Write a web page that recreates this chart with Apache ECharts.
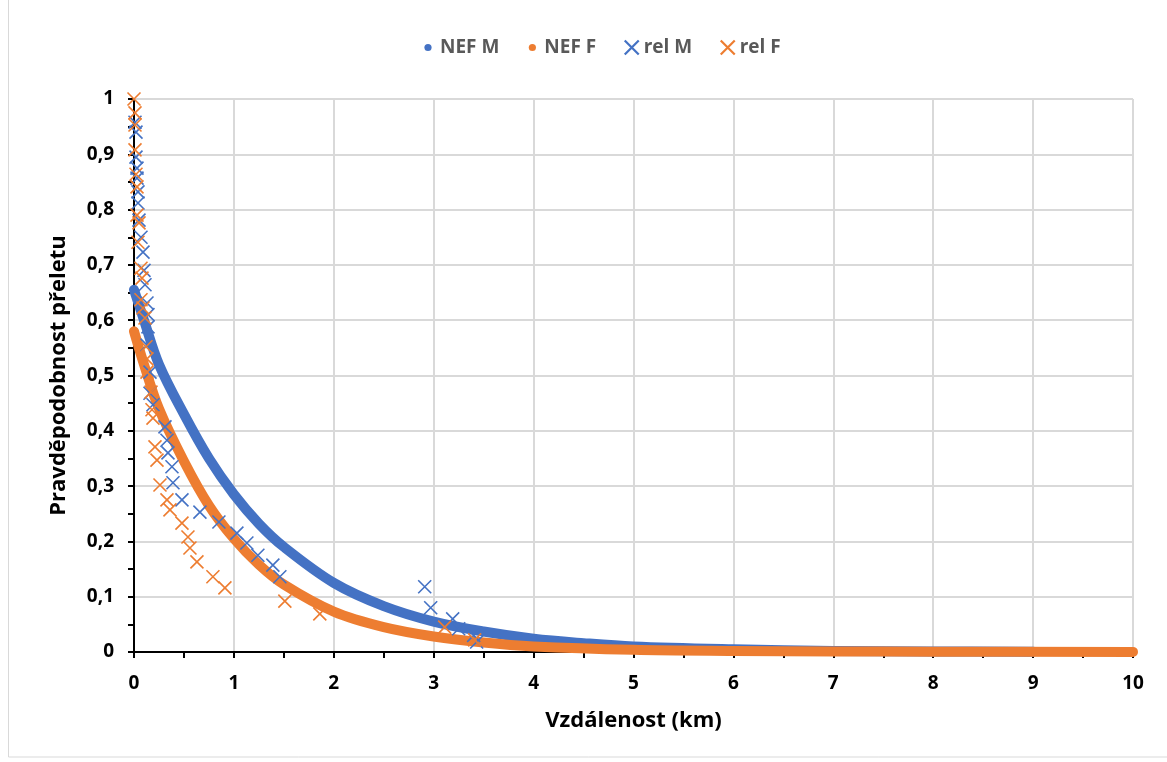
<!DOCTYPE html>
<html>
<head>
<meta charset="utf-8">
<script src="https://cdn.jsdelivr.net/npm/echarts@6/dist/echarts.min.js"></script>
<style>
  html, body { margin: 0; padding: 0; background: #fff; }
  #chart { width: 1167px; height: 762px; }
</style>
</head>
<body>
<div id="chart"></div>
<script>
const log = console.log;

// NEF curves [km, probability]
const nefM = [
  [0, 0.655], [0.1, 0.6], [0.25, 0.52], [0.5, 0.43], [0.75, 0.35], [1, 0.285],
  [1.25, 0.232], [1.5, 0.19], [2, 0.125], [2.5, 0.083], [3, 0.055], [3.5, 0.037],
  [4, 0.024], [4.5, 0.016], [5, 0.01], [6, 0.005], [7, 0.002], [8, 0.001], [9, 0.0005]
];
const nefF = [
  [0, 0.58], [0.1, 0.52], [0.25, 0.44], [0.5, 0.345], [0.75, 0.265], [1, 0.205],
  [1.25, 0.158], [1.5, 0.122], [2, 0.073], [2.5, 0.045], [3, 0.028], [3.5, 0.017],
  [4, 0.01], [5, 0.004], [6, 0.002], [7, 0.001], [8, 0.0005], [10, 0.0002]
];

// measured points (crosses)
const relM = [
  [0.01, 0.958], [0.02, 0.94], [0.02, 0.895], [0.03, 0.875], [0.03, 0.857], [0.04, 0.832],
  [0.04, 0.812], [0.05, 0.781], [0.07, 0.75], [0.09, 0.723], [0.1, 0.69], [0.11, 0.664],
  [0.13, 0.631], [0.14, 0.61], [0.14, 0.588], [0.13, 0.555], [0.16, 0.506], [0.16, 0.468],
  [0.19, 0.447], [0.31, 0.407], [0.33, 0.383], [0.34, 0.36], [0.38, 0.335], [0.39, 0.306],
  [0.48, 0.275], [0.66, 0.253], [0.85, 0.235], [1.03, 0.215], [1.13, 0.197], [1.24, 0.175],
  [1.39, 0.157], [1.46, 0.136], [2.91, 0.118], [2.97, 0.08], [3.19, 0.06], [3.25, 0.042],
  [3.4, 0.03], [3.43, 0.018]
];
const relF = [
  [0, 1.0], [0.01, 0.975], [0.01, 0.953], [0.01, 0.908], [0.02, 0.864], [0.03, 0.841],
  [0.03, 0.79], [0.05, 0.776], [0.04, 0.741], [0.07, 0.694], [0.08, 0.676], [0.07, 0.637],
  [0.09, 0.622], [0.11, 0.604], [0.12, 0.552], [0.13, 0.53], [0.13, 0.506], [0.17, 0.47],
  [0.18, 0.438], [0.19, 0.423], [0.21, 0.371], [0.23, 0.347], [0.26, 0.302], [0.33, 0.275],
  [0.36, 0.257], [0.48, 0.233], [0.54, 0.208], [0.56, 0.188], [0.63, 0.163], [0.79, 0.136],
  [0.91, 0.116], [1.51, 0.092], [1.86, 0.069], [3.11, 0.045], [3.41, 0.022]
];

const BLUE = "#4472C4";
const ORANGE = "#ED7D31";
const CROSS = "path://M0,0L10,10M10,0L0,10";
const FONT = "'Open Sans', 'Noto Sans', sans-serif";
const comma = v => String(Math.round(v * 10) / 10).replace(".", ",");
// small dot legend icon, padded so it stays small inside the legend box
const dot = color => "image://data:image/svg+xml;utf8," + encodeURIComponent(
  `<svg xmlns="http://www.w3.org/2000/svg" width="14" height="14"><circle cx="7" cy="7" r="3.6" fill="${color}"/></svg>`);

const myChart = echarts.init(document.getElementById("chart"));

const curve = (name, data, color) => ({
  name: name,
  type: "line",
  data: data,
  smooth: 0.35,
  symbol: "none",
  itemStyle: { color: color },
  lineStyle: { color: color, width: 10, cap: "round", join: "round" },
  z: 2
});
const crosses = (name, data, color) => ({
  name: name,
  type: "scatter",
  data: data,
  symbol: CROSS,
  symbolSize: 13,
  itemStyle: { color: "none", borderColor: color, borderWidth: 1.6, opacity: 1 },
  z: 3
});

const option = {
  animation: false,
  textStyle: { fontFamily: FONT },
  legend: {
    top: 33,
    left: 416,
    itemGap: 26,
    itemWidth: 14,
    itemHeight: 14,
    textStyle: { fontSize: 19, fontWeight: "bold", color: "#595959", fontFamily: FONT },
    data: [
      { name: "NEF M", icon: dot(BLUE) },
      { name: "NEF F", icon: dot(ORANGE) },
      { name: "rel M", icon: CROSS, itemStyle: { color: "none", borderColor: BLUE, borderWidth: 2.2 } },
      { name: "rel F", icon: CROSS, itemStyle: { color: "none", borderColor: ORANGE, borderWidth: 2.2 } }
    ]
  },
  grid: { left: 134, right: 34, top: 99, bottom: 110 },
  xAxis: {
    type: "value",
    min: 0,
    max: 10,
    interval: 1,
    name: "Vzdálenost (km)",
    nameLocation: "middle",
    nameGap: 58,
    nameTextStyle: { fontSize: 22, fontWeight: "bold", color: "#000", fontFamily: FONT },
    axisLine: { onZero: false, lineStyle: { color: "#000", width: 2 } },
    axisTick: { show: true, length: 6, lineStyle: { color: "#000", width: 2 } },
    minorTick: { show: true, splitNumber: 2, length: 6, lineStyle: { color: "#000", width: 2 } },
    axisLabel: { fontSize: 19, fontWeight: "bold", color: "#000", margin: 22, formatter: comma },
    splitLine: { show: true, lineStyle: { color: "#d9d9d9", width: 2 } }
  },
  yAxis: {
    type: "value",
    min: 0,
    max: 1,
    interval: 0.1,
    name: "Pravděpodobnost přeletu",
    nameLocation: "middle",
    nameGap: 64,
    nameTextStyle: { fontSize: 22, fontWeight: "bold", color: "#000", fontFamily: FONT },
    axisLine: { show: true, lineStyle: { color: "#000", width: 2 } },
    axisTick: { show: true, length: 6, lineStyle: { color: "#000", width: 2 } },
    minorTick: { show: true, splitNumber: 2, length: 6, lineStyle: { color: "#000", width: 2 } },
    axisLabel: { fontSize: 19, fontWeight: "bold", color: "#000", margin: 20, formatter: comma },
    splitLine: { show: true, lineStyle: { color: "#d9d9d9", width: 2 } }
  },
  graphic: [{
    type: "rect",
    shape: { x: 8.5, y: -2, width: 1170, height: 759 },
    style: { fill: "none", stroke: "#d9d9d9", lineWidth: 1 },
    silent: true
  }],
  series: [
    curve("NEF M", nefM, BLUE),
    curve("NEF F", nefF, ORANGE),
    crosses("rel M", relM, BLUE),
    crosses("rel F", relF, ORANGE)
  ]
};

myChart.setOption(option);
</script>
</body>
</html>
